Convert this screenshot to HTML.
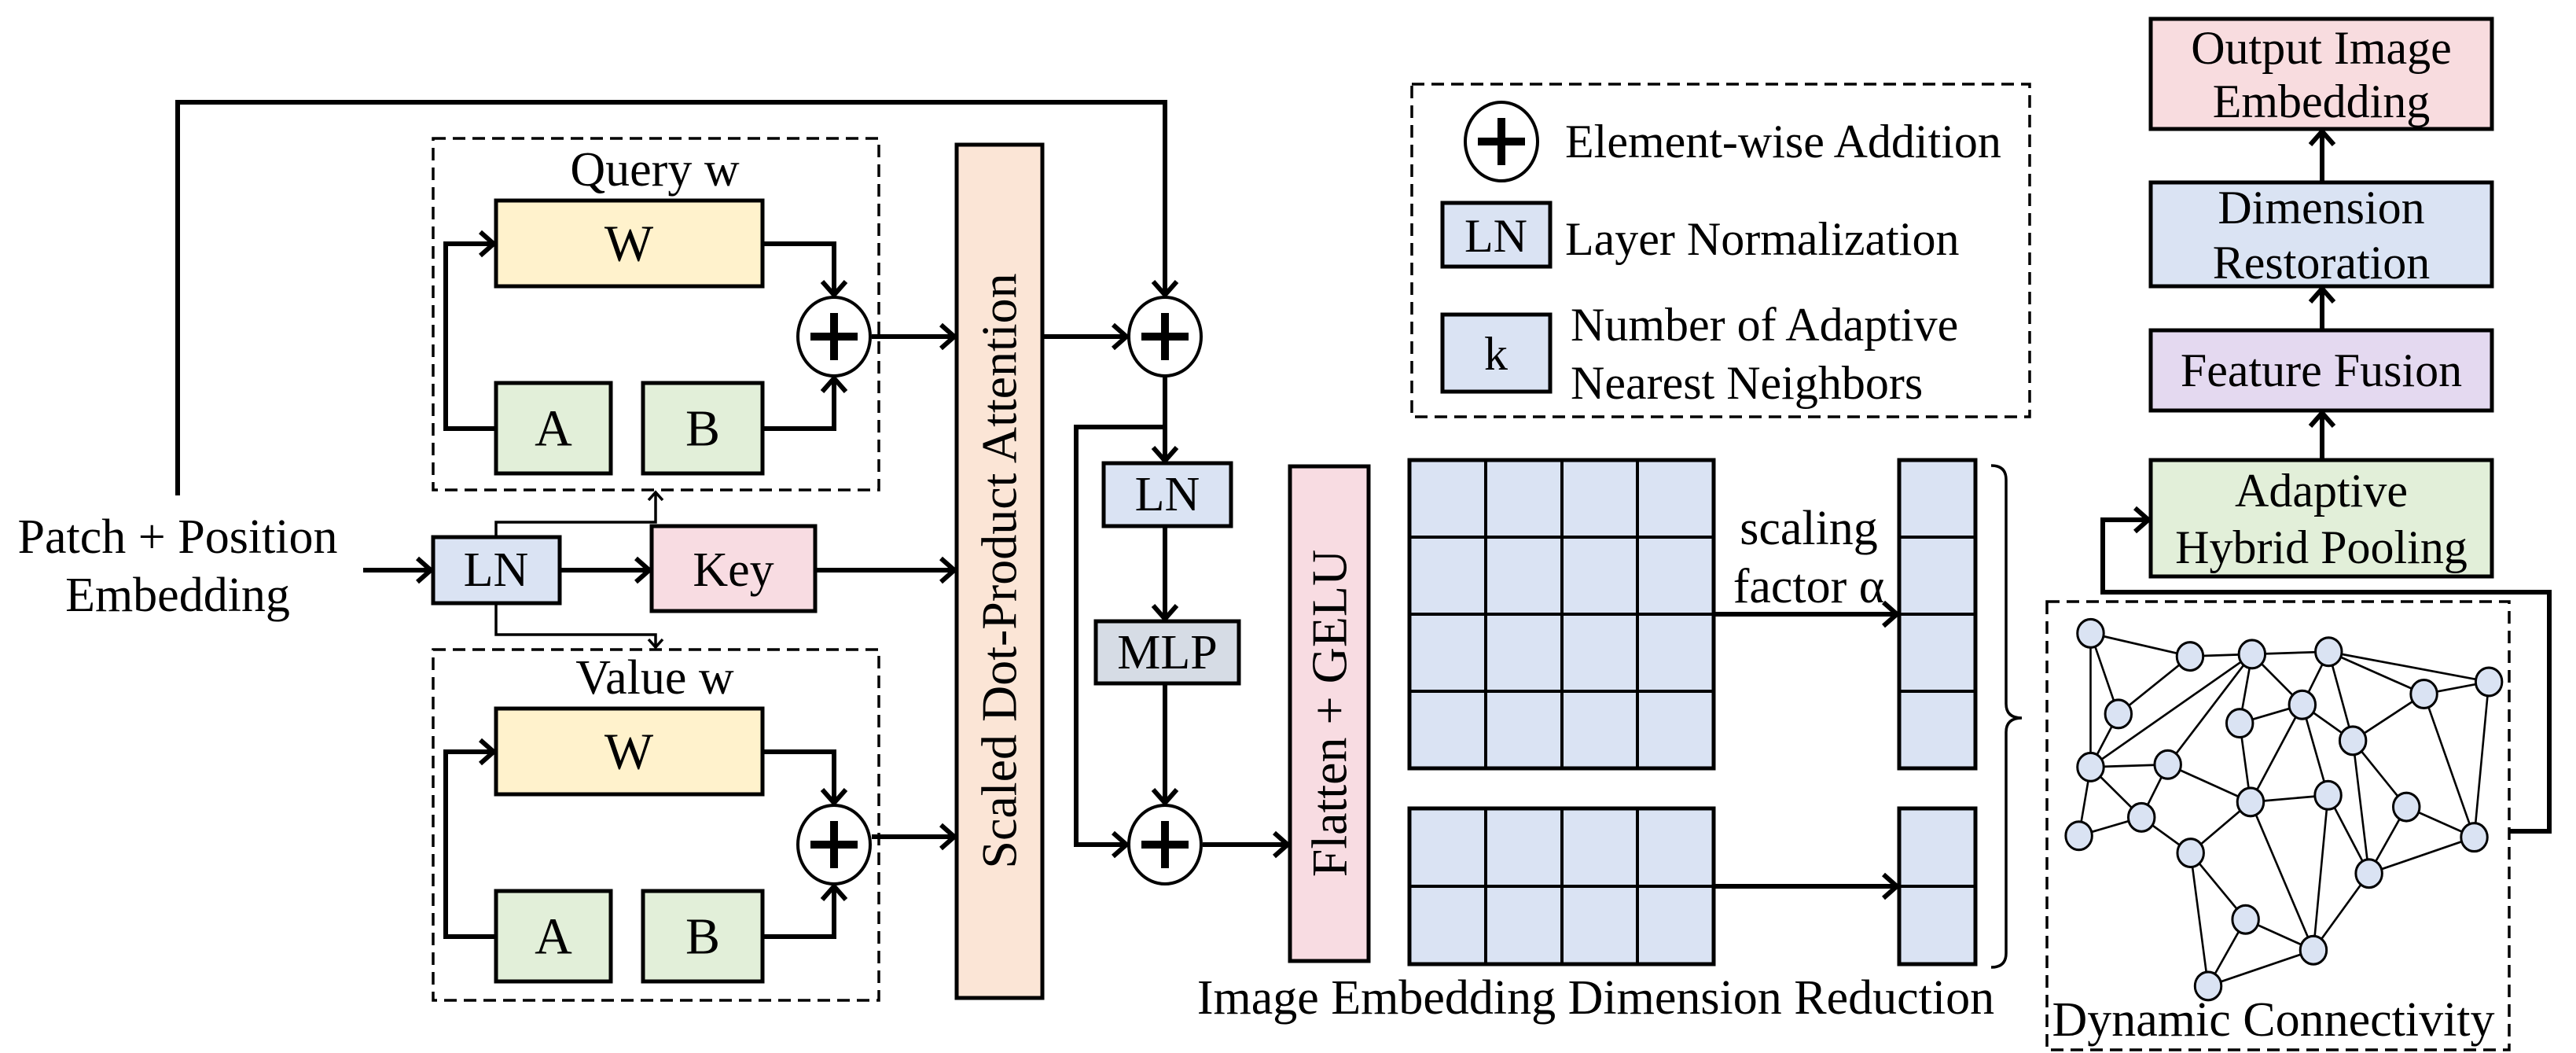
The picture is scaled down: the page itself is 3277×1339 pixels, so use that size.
<!DOCTYPE html>
<html><head><meta charset="utf-8"><style>
html,body{margin:0;padding:0;background:#fff;}
svg{display:block;}
text{font-family:"Liberation Serif",serif;fill:#000;}
</style></head><body>
<svg width="3277" height="1339" viewBox="0 0 3277 1339" xmlns="http://www.w3.org/2000/svg">
<defs>
<marker id="ah" markerUnits="userSpaceOnUse" markerWidth="40" markerHeight="40" refX="24" refY="20" orient="auto"><polyline points="6,5 23,20 6,35" fill="none" stroke="#000" stroke-width="6"/></marker>
<marker id="at" markerUnits="userSpaceOnUse" markerWidth="30" markerHeight="30" refX="16" refY="15" orient="auto"><polyline points="5,6 15,15 5,24" fill="none" stroke="#000" stroke-width="3.5"/></marker>
</defs>

<g font-size="62" text-anchor="middle" dominant-baseline="central">
<text x="226" y="683" font-size="62">Patch + Position</text>
<text x="226" y="757" font-size="62">Embedding</text>

<rect x="551" y="176" width="567" height="447" fill="none" stroke="#000" stroke-width="3.5" stroke-dasharray="16 9"/>
<rect x="551" y="826" width="567" height="446" fill="none" stroke="#000" stroke-width="3.5" stroke-dasharray="16 9"/>
<text x="833" y="216">Query w</text>
<text x="833" y="862">Value w</text>

<rect x="631" y="255" width="339" height="109" fill="#fff2cc" stroke="#000" stroke-width="5"/>
<text x="800" y="310" font-size="66">W</text>
<rect x="631" y="487" width="146" height="115" fill="#e2efd9" stroke="#000" stroke-width="5"/>
<text x="704" y="545" font-size="66">A</text>
<rect x="818" y="487" width="152" height="115" fill="#e2efd9" stroke="#000" stroke-width="5"/>
<text x="894" y="545" font-size="66">B</text>
<rect x="631" y="901" width="339" height="109" fill="#fff2cc" stroke="#000" stroke-width="5"/>
<text x="800" y="956" font-size="66">W</text>
<rect x="631" y="1133" width="146" height="115" fill="#e2efd9" stroke="#000" stroke-width="5"/>
<text x="704" y="1191" font-size="66">A</text>
<rect x="818" y="1133" width="152" height="115" fill="#e2efd9" stroke="#000" stroke-width="5"/>
<text x="894" y="1191" font-size="66">B</text>

<rect x="551" y="683" width="161" height="84" fill="#dae3f3" stroke="#000" stroke-width="5"/>
<text x="631" y="725">LN</text>
<rect x="829" y="669" width="208" height="108" fill="#f8dce2" stroke="#000" stroke-width="5"/>
<text x="933" y="725">Key</text>

<rect x="1217" y="184" width="109" height="1085" fill="#fbe5d6" stroke="#000" stroke-width="5"/>
<text x="1271" y="726" transform="rotate(-90 1271 726)" font-size="64">Scaled Dot-Product Attention</text>

<rect x="1404" y="589" width="162" height="80" fill="#dae3f3" stroke="#000" stroke-width="5"/>
<text x="1485" y="629">LN</text>
<rect x="1394" y="790" width="182" height="79" fill="#d6dce5" stroke="#000" stroke-width="5"/>
<text x="1485" y="830">MLP</text>

<rect x="1641" y="593" width="100" height="629" fill="#f8dce2" stroke="#000" stroke-width="5"/>
<text x="1691" y="907" transform="rotate(-90 1691 907)" font-size="64">Flatten + GELU</text>
</g>

<g fill="#fff" stroke="#000">
<ellipse cx="1061" cy="428" rx="46" ry="50" stroke-width="4"/>
<ellipse cx="1061" cy="1074" rx="46" ry="50" stroke-width="4"/>
<ellipse cx="1482" cy="428" rx="46" ry="50" stroke-width="4"/>
<ellipse cx="1482" cy="1074" rx="46" ry="50" stroke-width="4"/>
<ellipse cx="1910" cy="180" rx="46" ry="50" stroke-width="4"/>
</g>
<g stroke="#000" stroke-width="10">
<path d="M1031,428H1091M1061,398V458"/>
<path d="M1031,1074H1091M1061,1044V1104"/>
<path d="M1452,428H1512M1482,398V458"/>
<path d="M1452,1074H1512M1482,1044V1104"/>
<path d="M1880,180H1940M1910,150V210"/>
</g>

<g fill="none" stroke="#000" stroke-width="6" marker-end="url(#ah)">
<path d="M226,630V130H1482V376"/>
<path d="M631,545H567V310H629"/>
<path d="M970,310H1061V376"/>
<path d="M970,545H1061V480"/>
<path d="M1109,428H1215"/>
<path d="M631,1191H567V956H629"/>
<path d="M970,956H1061V1022"/>
<path d="M970,1191H1061V1126"/>
<path d="M1109,1064H1215"/>
<path d="M462,725H549"/>
<path d="M712,725H827"/>
<path d="M1037,725H1215"/>
<path d="M1326,428H1434"/>
<path d="M1482,478V587"/>
<path d="M1482,543H1369V1074H1434"/>
<path d="M1482,669V788"/>
<path d="M1482,869V1022"/>
<path d="M1530,1074H1639"/>
<path d="M2180,781H2414"/>
<path d="M2180,1127H2414"/>
<path d="M2954,585V524"/>
<path d="M2954,420V366"/>
<path d="M2954,232V166"/>
<path d="M3192,1057H3243V753H2675V661H2734"/>
</g>
<g fill="none" stroke="#000" stroke-width="3.5" marker-end="url(#at)">
<path d="M631,683V664H834V625"/>
<path d="M631,767V807H834V824"/>
</g>

<g fill="#dae3f3" stroke="#000" stroke-width="5">
<rect x="1793" y="585" width="387" height="392"/>
<rect x="1793" y="1028" width="387" height="198"/>
<rect x="2416" y="585" width="97" height="392"/>
<rect x="2416" y="1028" width="97" height="198"/>
</g>
<g stroke="#000" stroke-width="4" fill="none">
<path d="M1890,585V977M1987,585V977M2083,585V977M1793,683H2180M1793,781H2180M1793,879H2180"/>
<path d="M1890,1028V1226M1987,1028V1226M2083,1028V1226M1793,1127H2180"/>
<path d="M2416,683H2513M2416,781H2513M2416,879H2513M2416,1127H2513"/>
<path stroke-width="3.5" d="M2533,592Q2552,592 2552,610V895Q2552,913 2572,913Q2552,913 2552,931V1212Q2552,1230 2533,1230"/>
</g>
<g font-size="62" text-anchor="middle" dominant-baseline="central">
<text x="2301" y="672">scaling</text>
<text x="2301" y="746">factor α</text>
<text x="2030" y="1269">Image Embedding Dimension Reduction</text>
<text x="2892" y="1297">Dynamic Connectivity</text>
</g>

<rect x="1796" y="107" width="786" height="423" fill="none" stroke="#000" stroke-width="3.5" stroke-dasharray="16 9"/>
<rect x="1835" y="258" width="137" height="81" fill="#dae3f3" stroke="#000" stroke-width="5"/>
<rect x="1835" y="400" width="137" height="98" fill="#dae3f3" stroke="#000" stroke-width="5"/>
<g font-size="60" dominant-baseline="central">
<text x="1903" y="300" text-anchor="middle">LN</text>
<text x="1903" y="450" text-anchor="middle">k</text>
<text x="1991" y="180">Element-wise Addition</text>
<text x="1991" y="304">Layer Normalization</text>
<text x="1998" y="413">Number of Adaptive</text>
<text x="1998" y="487">Nearest Neighbors</text>
</g>

<g stroke="#000" stroke-width="5">
<rect x="2736" y="24" width="434" height="140" fill="#f8dcdf"/>
<rect x="2736" y="232" width="434" height="132" fill="#dae3f3"/>
<rect x="2736" y="420" width="434" height="102" fill="#e4d9f0"/>
<rect x="2736" y="585" width="434" height="148" fill="#e2efd9"/>
</g>
<g font-size="60" text-anchor="middle" dominant-baseline="central">
<text x="2953" y="61">Output Image</text>
<text x="2953" y="129">Embedding</text>
<text x="2953" y="264">Dimension</text>
<text x="2953" y="334">Restoration</text>
<text x="2953" y="471">Feature Fusion</text>
<text x="2953" y="624">Adaptive</text>
<text x="2953" y="696">Hybrid Pooling</text>
</g>

<rect x="2604" y="765" width="588" height="570" fill="none" stroke="#000" stroke-width="3.5" stroke-dasharray="16 9"/>

<g transform="translate(2610,787) scale(0.372,0.39)">
<g stroke="#000" stroke-width="7" fill="none">
<path d="M133,47L473,122 M133,47L228,310 M133,47L133,483 M473,122L685,115 M473,122L228,310 M685,115L947,107 M685,115L133,483 M685,115L397,475 M685,115L643,340 M685,115L857,280 M947,107L857,280 M947,107L1030,397 M947,107L1273,245 M947,107L1495,205 M1273,245L1495,205 M1273,245L1030,397 M1273,245L1445,712 M1495,205L1445,712 M228,310L133,483 M857,280L643,340 M857,280L1030,397 M857,280L680,597 M857,280L945,575 M643,340L680,597 M133,483L397,475 M133,483L307,647 M133,483L93,707 M397,475L307,647 M397,475L680,597 M307,647L93,707 M307,647L475,763 M680,597L475,763 M680,597L895,1080 M945,575L680,597 M945,575L895,1080 M945,575L1085,830 M1030,397L1213,613 M1030,397L1085,830 M1213,613L1445,712 M1213,613L1085,830 M1085,830L1445,712 M1085,830L895,1080 M475,763L663,980 M475,763L535,1197 M663,980L895,1080 M663,980L535,1197 M535,1197L895,1080"/>
</g>
<g fill="#dae3f3" stroke="#000" stroke-width="8">
<ellipse cx="133" cy="47" rx="45" ry="46"/><ellipse cx="473" cy="122" rx="45" ry="46"/><ellipse cx="685" cy="115" rx="45" ry="46"/><ellipse cx="947" cy="107" rx="45" ry="46"/><ellipse cx="1495" cy="205" rx="45" ry="46"/><ellipse cx="1273" cy="245" rx="45" ry="46"/><ellipse cx="228" cy="310" rx="45" ry="46"/><ellipse cx="857" cy="280" rx="45" ry="46"/><ellipse cx="643" cy="340" rx="45" ry="46"/><ellipse cx="1030" cy="397" rx="45" ry="46"/><ellipse cx="133" cy="483" rx="45" ry="46"/><ellipse cx="397" cy="475" rx="45" ry="46"/><ellipse cx="680" cy="597" rx="45" ry="46"/><ellipse cx="945" cy="575" rx="45" ry="46"/><ellipse cx="1213" cy="613" rx="45" ry="46"/><ellipse cx="307" cy="647" rx="45" ry="46"/><ellipse cx="93" cy="707" rx="45" ry="46"/><ellipse cx="1445" cy="712" rx="45" ry="46"/><ellipse cx="475" cy="763" rx="45" ry="46"/><ellipse cx="1085" cy="830" rx="45" ry="46"/><ellipse cx="663" cy="980" rx="45" ry="46"/><ellipse cx="895" cy="1080" rx="45" ry="46"/><ellipse cx="535" cy="1197" rx="45" ry="46"/>
</g>
</g>
</svg>
</body></html>
